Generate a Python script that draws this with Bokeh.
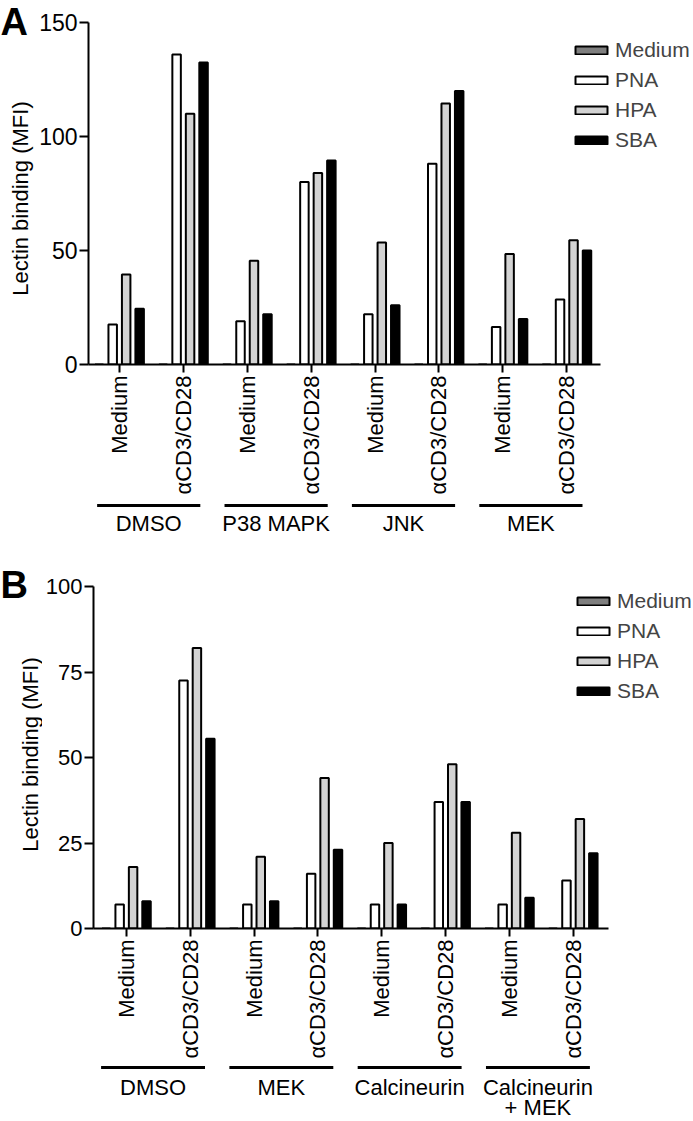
import math
from bokeh.plotting import figure
from bokeh.models import (ColumnDataSource, FixedTicker, Legend, LegendItem, Range1d)
from bokeh.layouts import column, row
from bokeh.transform import dodge
from bokeh.core.properties import value
from bokeh.embed import file_html
from bokeh.resources import INLINE

FONT = "Liberation Sans"

# ---------------- data ----------------
conditions = ["Medium", "αCD3/CD28", "Medium", "αCD3/CD28",
              "Medium", "αCD3/CD28", "Medium", "αCD3/CD28"]
series = ["Medium", "PNA", "HPA", "SBA"]
series_colors = ["#7f7f7f", "#ffffff", "#d3d3d3", "#000000"]

groups_a = ["DMSO", "P38 MAPK", "JNK", "MEK"]
medium_a = [0, 0, 0, 0, 0, 0, 0, 0]
pna_a = [17.5, 136, 19, 80, 22, 88, 16.5, 28.5]
hpa_a = [39.5, 110, 45.5, 84, 53.5, 114.5, 48.5, 54.5]
sba_a = [24.5, 132.5, 22, 89.5, 26, 120, 20, 50]
yticks_a = [0, 50, 100, 150]

groups_b = ["DMSO", "MEK", "Calcineurin", "Calcineurin\n+ MEK"]
medium_b = [0, 0, 0, 0, 0, 0, 0, 0]
pna_b = [7, 72.5, 7, 16, 7, 37, 7, 14]
hpa_b = [18, 82, 21, 44, 25, 48, 28, 32]
sba_b = [8, 55.5, 8, 23, 7, 37, 9, 22]
yticks_b = [0, 25, 50, 75, 100]

W = 693
YLABEL = "Lectin binding (MFI)"


def bare(width, height, x_range, y_range, left=0, bottom=0):
    f = figure(width=width, height=height, x_range=x_range, y_range=y_range,
               x_axis_type=None, y_axis_type=None,
               min_border_left=left, min_border_right=0,
               min_border_top=0, min_border_bottom=bottom,
               output_backend="svg", toolbar_location=None)
    f.outline_line_color = None
    f.xgrid.visible = False
    f.ygrid.visible = False
    return f


def panel(letter, groups, values, yticks, strip_w, height, left, top, bottom,
          x0, x1_axis, axis_px, legend_xy, ytick_size, letter_y, ylab_x, ylab_dy,
          g_height, line_y, lab_y, lab2_y, gshift):
    ymax = yticks[-1]
    pw = W - strip_w
    frame_w = pw - left
    pxx = axis_px / (x1_axis - x0)
    x_range = Range1d(x0, x0 + frame_w / pxx)
    axis_h = height - top - bottom          # pixel height of the 0..ymax span
    frame_h = height - bottom               # frame reaches the top of the canvas
    y_range = Range1d(0, ymax * frame_h / axis_h)

    p = figure(width=pw, height=height, x_range=x_range, y_range=y_range,
               min_border_left=left, min_border_right=0,
               min_border_top=0, min_border_bottom=bottom,
               output_backend="svg", toolbar_location=None)
    p.outline_line_color = None
    p.xgrid.visible = False
    p.ygrid.visible = False

    src = ColumnDataSource(dict(x=list(range(len(conditions))),
                                **{s: v for s, v in zip(series, values)}))
    slot = 13.5 / pxx
    bw = 8.5 / pxx
    items = []
    for i, (s, c) in enumerate(zip(series, series_colors)):
        off = (i - 1.5) * slot
        r = p.vbar(x=dodge("x", off, range=p.x_range), top=s, width=bw, source=src,
                   fill_color=c, line_color="black", line_width=2)
        items.append(LegendItem(label=s, renderers=[r]))

    leg = Legend(items=items, location=legend_xy, padding=0, margin=0,
                 border_line_color=None, background_fill_alpha=0,
                 glyph_width=40, glyph_height=10, label_standoff=4,
                 label_height=24, spacing=6,
                 label_text_font=FONT, label_text_font_size="21px")
    p.add_layout(leg)

    for ax in (p.xaxis[0], p.yaxis[0]):
        ax.axis_line_width = 2
        ax.major_tick_line_width = 2
        ax.major_tick_in = 0
        ax.minor_tick_line_color = None
        ax.major_label_text_font = FONT
        ax.major_label_text_color = "black"
        ax.axis_line_color = "black"
        ax.major_tick_line_color = "black"
    p.yaxis.ticker = FixedTicker(ticks=yticks)
    p.yaxis.bounds = (0, ymax)
    p.yaxis.major_label_text_font_size = ytick_size
    p.yaxis.major_tick_out = 9
    p.yaxis.major_label_standoff = 2
    p.xaxis.bounds = (x0, x1_axis)
    p.xaxis.ticker = FixedTicker(ticks=list(range(len(conditions))))
    p.xaxis.major_label_overrides = {i: t for i, t in enumerate(conditions)}
    p.xaxis.major_label_orientation = math.pi / 2
    p.xaxis.major_label_text_font_size = "22px"
    p.xaxis.major_tick_out = 8
    p.xaxis.major_label_standoff = 3

    # strip on the left: panel letter and y-axis title (pixel units from the top)
    s = bare(strip_w, height, Range1d(0, strip_w), Range1d(frame_h, 0), bottom=bottom)
    s.text(x=[0], y=[letter_y], text=[letter], text_align="left",
           text_baseline="middle", text_font=value(FONT),
           text_font_size="38px", text_font_style="bold", text_color="black")
    s.text(x=[ylab_x], y=[top + axis_h / 2 + ylab_dy],
           text=[YLABEL], angle=math.pi / 2, text_align="center",
           text_baseline="middle", text_font=value(FONT),
           text_font_size="22px", text_color="black")

    # group underlines and names below the category labels
    g = bare(W, g_height, x_range, Range1d(g_height, 0), left=strip_w + left)
    cx = [2 * k + 0.5 + gshift for k in range(len(groups))]
    gsrc = ColumnDataSource(dict(
        x0=[c - 0.81 for c in cx], x1=[c + 0.81 for c in cx], cx=cx,
        y=[line_y] * len(groups),
        n1=[t.split("\n")[0] for t in groups],
        n2=[t.split("\n")[1] if "\n" in t else "" for t in groups]))
    g.segment(x0="x0", x1="x1", y0="y", y1="y", source=gsrc,
              line_width=3, line_color="black")
    g.text(x="cx", y=lab_y, text="n1", source=gsrc, text_align="center",
           text_baseline="middle", text_font=value(FONT), text_font_size="22px",
           text_color="black")
    g.text(x="cx", y=lab2_y, text="n2", source=gsrc, text_align="center",
           text_baseline="middle", text_font=value(FONT), text_font_size="22px",
           text_color="black")
    return row(s, p), g


top_a, ga = panel("A", groups_a, [medium_a, pna_a, hpa_a, sba_a], yticks_a,
                  strip_w=36, height=502, left=51, top=22, bottom=138,
                  x0=-0.484, x1_axis=7.53, axis_px=513, legend_xy=(483, 212),
                  ytick_size="23px", letter_y=21, ylab_x=20, ylab_dy=5,
                  g_height=61, line_y=3, lab_y=21, lab2_y=40, gshift=-0.07)
top_b, gb = panel("B", groups_b, [medium_b, pna_b, hpa_b, sba_b], yticks_b,
                  strip_w=42, height=501, left=48, top=23, bottom=136,
                  x0=-0.515, x1_axis=7.56, axis_px=518, legend_xy=(480, 225),
                  ytick_size="22px", letter_y=21, ylab_x=29.5, ylab_dy=-3,
                  g_height=57, line_y=3, lab_y=23, lab2_y=43, gshift=-0.04)

layout = column(top_a, ga, top_b, gb)
open("out.html", "w").write(file_html(layout, INLINE))
